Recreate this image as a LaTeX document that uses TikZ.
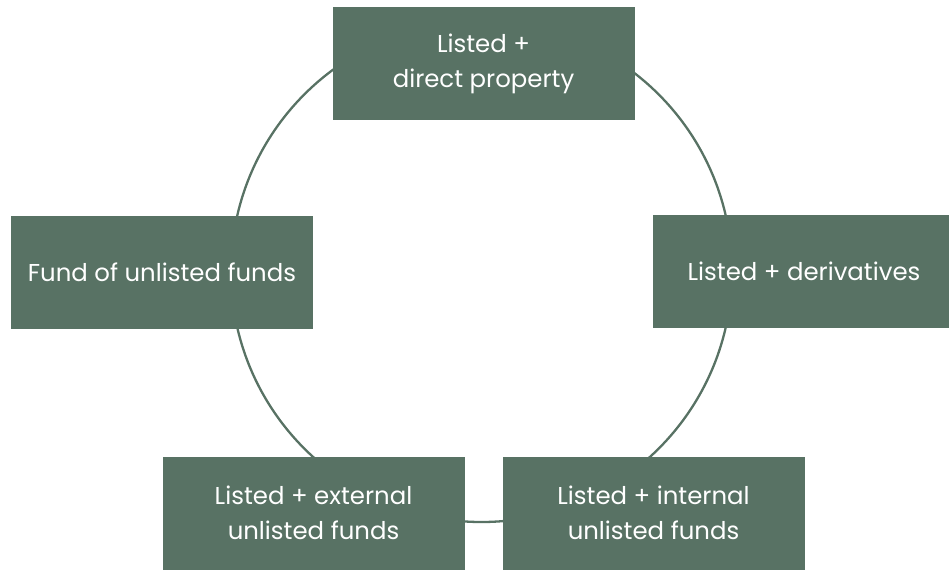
\documentclass[tikz,border=0pt]{standalone}
\usepackage{fontspec}
\setmainfont{Poppins}
\usepackage{tikz}
\usetikzlibrary{positioning}
\definecolor{fundgreen}{RGB}{88,114,100}

\begin{document}
\begin{tikzpicture}[
		% one unit = one pixel of the reference, y pointing down
		x=0.5pt, y=-0.5pt,
		line join=round, line cap=round,
		fundbox/.style={fill=fundgreen, text=white, align=center,
				minimum width=151pt, minimum height=56.5pt, inner sep=0pt,
				font=\fontsize{12.2pt}{17.5pt}\selectfont}
	]

	% Parameters
	\def\R{125.25pt}

	\useasboundingbox (0,0) rectangle (949,569);

	%-------------------
	% Ring
	%-------------------
	\coordinate (hub) at (481.5,271.5);
	\draw[fundgreen, line width=1.15pt] (hub) circle (\R);

	%-------------------
	% Structures
	%-------------------
	\node[fundbox] (direct)   at (483.5,63.5) {Listed +\\direct property};
	\node[fundbox] (deriv)    at (804,271.5)  {Listed + derivatives};
	\node[fundbox] (internal) at (653.5,513)  {Listed + internal\\unlisted funds};
	\node[fundbox] (external) at (313.5,513)  {Listed + external\\unlisted funds};
	\node[fundbox] (fof)      at (162,272)    {Fund of unlisted funds};

\end{tikzpicture}
\end{document}
